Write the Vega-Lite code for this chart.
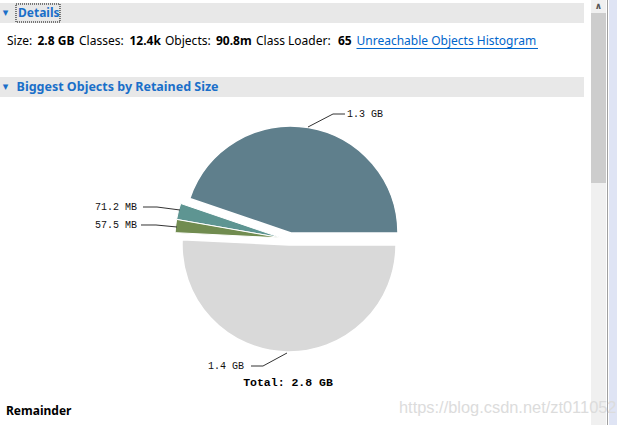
{
  "$schema": "https://vega.github.io/schema/vega-lite/v6.json",
  "width": 617,
  "height": 425,
  "padding": 0,
  "autosize": {"type": "none"},
  "background": "white",
  "config": {"view": {"stroke": null}, "axis": {"disable": true}},
  "datasets": {
    "slices": [
      {"name": "Object 1", "mb": 1300, "order": 1, "label": "1.3 GB"},
      {"name": "Object 2", "mb": 71.2, "order": 2, "label": "71.2 MB"},
      {"name": "Object 3", "mb": 57.5, "order": 3, "label": "57.5 MB"},
      {"name": "Remainder", "mb": 1475, "order": 4, "label": "1.4 GB"}
    ],
    "page": [
      {"item": "bar1"}, {"item": "bar2"}, {"item": "focus"}, {"item": "track"}, {"item": "thumb"},
      {"item": "edge"}, {"item": "side"}, {"item": "underline"},
      {"item": "tri1", "text": "▾"}, {"item": "tri2", "text": "▾"},
      {"item": "details", "text": "Details"},
      {"item": "biggest", "text": "Biggest Objects by Retained Size"},
      {"item": "s1", "text": "Size:"}, {"item": "s2", "text": "2.8 GB"},
      {"item": "s3", "text": "Classes:"}, {"item": "s4", "text": "12.4k"},
      {"item": "s5", "text": "Objects:"}, {"item": "s6", "text": "90.8m"},
      {"item": "s7", "text": "Class Loader:"}, {"item": "s8", "text": "65"},
      {"item": "link", "text": "Unreachable Objects Histogram"},
      {"item": "total", "text": "Total: 2.8 GB"},
      {"item": "remainder", "text": "Remainder"},
      {"item": "watermark", "text": "https://blog.csdn.net/zt011052"},
      {"item": "arrow", "text": "∧"}
    ]
  },
  "layer": [
    {"data": {"name": "page"}, "transform": [{"filter": "datum.item == 'bar1'"}],
     "mark": {"type": "rect", "color": "#e8e8e8"},
     "encoding": {
       "x": {"datum": -2.70093, "type": "quantitative", "scale": {"domain": [-2.70093, 3.06542], "nice": false, "zero": false}, "axis": null},
       "x2": {"datum": 2.75701},
       "y": {"datum": 2.26168, "type": "quantitative", "scale": {"domain": [-1.68224, 2.28972], "nice": false, "zero": false}, "axis": null},
       "y2": {"datum": 2.07477}}},
    {"data": {"name": "page"}, "transform": [{"filter": "datum.item == 'bar2'"}],
     "mark": {"type": "rect", "color": "#e8e8e8"},
     "encoding": {"x": {"datum": -2.70093, "type": "quantitative", "axis": null}, "x2": {"datum": 2.75701},
       "y": {"datum": 1.57009, "type": "quantitative", "axis": null}, "y2": {"datum": 1.38318}}},
    {"data": {"name": "page"}, "transform": [{"filter": "datum.item == 'track'"}],
     "mark": {"type": "rect", "color": "#f0f0f0"},
     "encoding": {"x": {"datum": 2.82243, "type": "quantitative", "axis": null}, "x2": {"datum": 2.96262},
       "y": {"datum": -1.68224, "type": "quantitative", "axis": null}, "y2": {"datum": 2.28972}}},
    {"data": {"name": "page"}, "transform": [{"filter": "datum.item == 'thumb'"}],
     "mark": {"type": "rect", "color": "#cdcdcd"},
     "encoding": {"x": {"datum": 2.82243, "type": "quantitative", "axis": null}, "x2": {"datum": 2.96262},
       "y": {"datum": 2.16822, "type": "quantitative", "axis": null}, "y2": {"datum": 0.57944}}},
    {"data": {"name": "page"}, "transform": [{"filter": "datum.item == 'side'"}],
     "mark": {"type": "rect", "color": "#dfe4f4"},
     "encoding": {"x": {"datum": 2.99065, "type": "quantitative", "axis": null}, "x2": {"datum": 3.06542},
       "y": {"datum": -1.68224, "type": "quantitative", "axis": null}, "y2": {"datum": 2.28972}}},
    {"data": {"name": "page"}, "transform": [{"filter": "datum.item == 'edge'"}],
     "mark": {"type": "rule", "color": "#a0a0a0", "strokeWidth": 1},
     "encoding": {"x": {"datum": 2.97664, "type": "quantitative", "axis": null},
       "y": {"datum": -1.68224, "type": "quantitative", "axis": null}, "y2": {"datum": 2.28972}}},
    {"data": {"name": "page"}, "transform": [{"filter": "datum.item == 'focus'"}],
     "mark": {"type": "rect", "filled": false, "stroke": "#000000", "strokeWidth": 1, "strokeDash": [1, 1]},
     "encoding": {"x": {"datum": -2.55140, "type": "quantitative", "axis": null}, "x2": {"datum": -2.14019},
       "y": {"datum": 2.25234, "type": "quantitative", "axis": null}, "y2": {"datum": 2.08411}}},
    {"data": {"name": "page"}, "transform": [{"filter": "datum.item == 'underline'"}],
     "mark": {"type": "rule", "color": "#0066cc", "strokeWidth": 1},
     "encoding": {"x": {"datum": 0.63084, "type": "quantitative", "axis": null}, "x2": {"datum": 2.32710},
       "y": {"datum": 1.83645, "type": "quantitative", "axis": null}}},

    {"data": {"name": "slices"},
     "transform": [{"stack": "mb", "groupby": [], "sort": [{"field": "order", "order": "ascending"}], "as": ["s0", "s1"]}, {"filter": "datum.name == 'Remainder'"}],
     "mark": {"type": "arc", "outerRadius": 107, "stroke": "white", "strokeWidth": 1.5},
     "encoding": {
       "x": {"datum": 0, "type": "quantitative", "axis": null},
       "y": {"datum": 0, "type": "quantitative", "axis": null},
       "theta": {"field": "s0", "type": "quantitative", "scale": {"domain": [0, 2903.7], "range": [1.5708, -4.7124]}},
       "theta2": {"field": "s1"},
       "color": {"field": "name", "type": "nominal", "scale": {"domain": ["Object 1", "Object 2", "Object 3", "Remainder"], "range": ["#5f7f8c", "#5e9592", "#718c50", "#d9d9d9"]}, "legend": null}}},
    {"data": {"name": "slices"},
     "transform": [{"stack": "mb", "groupby": [], "sort": [{"field": "order", "order": "ascending"}], "as": ["s0", "s1"]}, {"filter": "datum.name == 'Object 1'"}],
     "mark": {"type": "arc", "outerRadius": 107, "stroke": "white", "strokeWidth": 1.5},
     "encoding": {
       "x": {"datum": 0.01869, "type": "quantitative", "axis": null},
       "y": {"datum": 0.11215, "type": "quantitative", "axis": null},
       "theta": {"field": "s0", "type": "quantitative", "scale": {"domain": [0, 2903.7], "range": [1.5708, -4.7124]}},
       "theta2": {"field": "s1"},
       "color": {"field": "name", "type": "nominal", "legend": null}}},
    {"data": {"name": "slices"},
     "transform": [{"stack": "mb", "groupby": [], "sort": [{"field": "order", "order": "ascending"}], "as": ["s0", "s1"]}, {"filter": "datum.name == 'Object 2' || datum.name == 'Object 3'"}],
     "mark": {"type": "arc", "outerRadius": 107, "stroke": "white", "strokeWidth": 1},
     "encoding": {
       "x": {"datum": -0.06542, "type": "quantitative", "axis": null},
       "y": {"datum": 0.06542, "type": "quantitative", "axis": null},
       "theta": {"field": "s0", "type": "quantitative", "scale": {"domain": [0, 2903.7], "range": [1.5708, -4.7124]}},
       "theta2": {"field": "s1"},
       "color": {"field": "name", "type": "nominal", "legend": null}}},

    {"data": {"name": "slices"}, "transform": [{"filter": "datum.order == 1"}],
     "mark": {"type": "rule", "color": "#333333", "strokeWidth": 1},
     "encoding": {"x": {"datum": 0.17757, "type": "quantitative", "axis": null}, "y": {"datum": 1.10280, "type": "quantitative", "axis": null},
       "x2": {"datum": 0.41121}, "y2": {"datum": 1.22430}}},
    {"data": {"name": "slices"}, "transform": [{"filter": "datum.order == 1"}],
     "mark": {"type": "rule", "color": "#333333", "strokeWidth": 1},
     "encoding": {"x": {"datum": 0.41121, "type": "quantitative", "axis": null}, "y": {"datum": 1.22430, "type": "quantitative", "axis": null},
       "x2": {"datum": 0.52336}, "y2": {"datum": 1.22430}}},
    {"data": {"name": "slices"}, "transform": [{"filter": "datum.order == 2"}],
     "mark": {"type": "rule", "color": "#333333", "strokeWidth": 1},
     "encoding": {"x": {"datum": -1.36449, "type": "quantitative", "axis": null}, "y": {"datum": 0.35514, "type": "quantitative", "axis": null},
       "x2": {"datum": -1.23364}, "y2": {"datum": 0.35514}}},
    {"data": {"name": "slices"}, "transform": [{"filter": "datum.order == 2"}],
     "mark": {"type": "rule", "color": "#333333", "strokeWidth": 1},
     "encoding": {"x": {"datum": -1.23364, "type": "quantitative", "axis": null}, "y": {"datum": 0.35514, "type": "quantitative", "axis": null},
       "x2": {"datum": -1.01869}, "y2": {"datum": 0.32710}}},
    {"data": {"name": "slices"}, "transform": [{"filter": "datum.order == 3"}],
     "mark": {"type": "rule", "color": "#333333", "strokeWidth": 1},
     "encoding": {"x": {"datum": -1.38318, "type": "quantitative", "axis": null}, "y": {"datum": 0.18692, "type": "quantitative", "axis": null},
       "x2": {"datum": -1.24299}, "y2": {"datum": 0.18692}}},
    {"data": {"name": "slices"}, "transform": [{"filter": "datum.order == 3"}],
     "mark": {"type": "rule", "color": "#333333", "strokeWidth": 1},
     "encoding": {"x": {"datum": -1.24299, "type": "quantitative", "axis": null}, "y": {"datum": 0.18692, "type": "quantitative", "axis": null},
       "x2": {"datum": -1.04673}, "y2": {"datum": 0.16822}}},
    {"data": {"name": "slices"}, "transform": [{"filter": "datum.order == 4"}],
     "mark": {"type": "rule", "color": "#333333", "strokeWidth": 1},
     "encoding": {"x": {"datum": -0.35514, "type": "quantitative", "axis": null}, "y": {"datum": -1.13084, "type": "quantitative", "axis": null},
       "x2": {"datum": -0.24299}, "y2": {"datum": -1.13084}}},
    {"data": {"name": "slices"}, "transform": [{"filter": "datum.order == 4"}],
     "mark": {"type": "rule", "color": "#333333", "strokeWidth": 1},
     "encoding": {"x": {"datum": -0.24299, "type": "quantitative", "axis": null}, "y": {"datum": -1.13084, "type": "quantitative", "axis": null},
       "x2": {"datum": -0.01869}, "y2": {"datum": -1.00935}}},

    {"data": {"name": "slices"}, "transform": [{"filter": "datum.order == 1"}],
     "mark": {"type": "text", "font": "Liberation Mono", "fontSize": 10, "color": "#111111", "align": "left", "baseline": "middle"},
     "encoding": {"x": {"datum": 0.54206, "type": "quantitative", "axis": null}, "y": {"datum": 1.22430, "type": "quantitative", "axis": null}, "text": {"field": "label"}}},
    {"data": {"name": "slices"}, "transform": [{"filter": "datum.order == 2"}],
     "mark": {"type": "text", "font": "Liberation Mono", "fontSize": 10, "color": "#111111", "align": "right", "baseline": "middle"},
     "encoding": {"x": {"datum": -1.42056, "type": "quantitative", "axis": null}, "y": {"datum": 0.35514, "type": "quantitative", "axis": null}, "text": {"field": "label"}}},
    {"data": {"name": "slices"}, "transform": [{"filter": "datum.order == 3"}],
     "mark": {"type": "text", "font": "Liberation Mono", "fontSize": 10, "color": "#111111", "align": "right", "baseline": "middle"},
     "encoding": {"x": {"datum": -1.42056, "type": "quantitative", "axis": null}, "y": {"datum": 0.18692, "type": "quantitative", "axis": null}, "text": {"field": "label"}}},
    {"data": {"name": "slices"}, "transform": [{"filter": "datum.order == 4"}],
     "mark": {"type": "text", "font": "Liberation Mono", "fontSize": 10, "color": "#111111", "align": "right", "baseline": "middle"},
     "encoding": {"x": {"datum": -0.42056, "type": "quantitative", "axis": null}, "y": {"datum": -1.13084, "type": "quantitative", "axis": null}, "text": {"field": "label"}}},

    {"data": {"name": "page"}, "transform": [{"filter": "datum.item == 'total'"}],
     "mark": {"type": "text", "font": "Liberation Mono", "fontSize": 11.5, "fontWeight": "bold", "color": "#000000", "align": "center", "baseline": "middle"},
     "encoding": {"x": {"datum": -0.00935, "type": "quantitative", "axis": null}, "y": {"datum": -1.28972, "type": "quantitative", "axis": null}, "text": {"field": "text"}}},

    {"data": {"name": "page"}, "transform": [{"filter": "datum.item == 'tri1'"}],
     "mark": {"type": "text", "font": "DejaVu Sans", "fontSize": 11, "color": "#1a6fc9", "align": "center", "baseline": "middle"},
     "encoding": {"x": {"datum": -2.64953, "type": "quantitative", "axis": null}, "y": {"datum": 2.16822, "type": "quantitative", "axis": null}, "text": {"field": "text"}}},
    {"data": {"name": "page"}, "transform": [{"filter": "datum.item == 'tri2'"}],
     "mark": {"type": "text", "font": "DejaVu Sans", "fontSize": 11, "color": "#1a6fc9", "align": "center", "baseline": "middle"},
     "encoding": {"x": {"datum": -2.64953, "type": "quantitative", "axis": null}, "y": {"datum": 1.47664, "type": "quantitative", "axis": null}, "text": {"field": "text"}}},
    {"data": {"name": "page"}, "transform": [{"filter": "datum.item == 'details'"}],
     "mark": {"type": "text", "font": "Noto Sans", "fontSize": 12, "fontWeight": "bold", "color": "#1a6fc9", "align": "left", "baseline": "middle"},
     "encoding": {"x": {"datum": -2.53271, "type": "quantitative", "axis": null}, "y": {"datum": 2.16822, "type": "quantitative", "axis": null}, "text": {"field": "text"}}},
    {"data": {"name": "page"}, "transform": [{"filter": "datum.item == 'biggest'"}],
     "mark": {"type": "text", "font": "Noto Sans", "fontSize": 12.5, "fontWeight": "bold", "color": "#1a6fc9", "align": "left", "baseline": "middle"},
     "encoding": {"x": {"datum": -2.54579, "type": "quantitative", "axis": null}, "y": {"datum": 1.47664, "type": "quantitative", "axis": null}, "text": {"field": "text"}}},

    {"data": {"name": "page"}, "transform": [{"filter": "datum.item == 's1'"}],
     "mark": {"type": "text", "font": "Noto Sans", "fontSize": 12, "color": "#000000", "align": "left", "baseline": "middle"},
     "encoding": {"x": {"datum": -2.63551, "type": "quantitative", "axis": null}, "y": {"datum": 1.90187, "type": "quantitative", "axis": null}, "text": {"field": "text"}}},
    {"data": {"name": "page"}, "transform": [{"filter": "datum.item == 's2'"}],
     "mark": {"type": "text", "font": "Noto Sans", "fontSize": 12, "fontWeight": "bold", "color": "#000000", "align": "left", "baseline": "middle"},
     "encoding": {"x": {"datum": -2.35047, "type": "quantitative", "axis": null}, "y": {"datum": 1.90187, "type": "quantitative", "axis": null}, "text": {"field": "text"}}},
    {"data": {"name": "page"}, "transform": [{"filter": "datum.item == 's3'"}],
     "mark": {"type": "text", "font": "Noto Sans", "fontSize": 12, "color": "#000000", "align": "left", "baseline": "middle"},
     "encoding": {"x": {"datum": -1.96262, "type": "quantitative", "axis": null}, "y": {"datum": 1.90187, "type": "quantitative", "axis": null}, "text": {"field": "text"}}},
    {"data": {"name": "page"}, "transform": [{"filter": "datum.item == 's4'"}],
     "mark": {"type": "text", "font": "Noto Sans", "fontSize": 12, "fontWeight": "bold", "color": "#000000", "align": "left", "baseline": "middle"},
     "encoding": {"x": {"datum": -1.49065, "type": "quantitative", "axis": null}, "y": {"datum": 1.90187, "type": "quantitative", "axis": null}, "text": {"field": "text"}}},
    {"data": {"name": "page"}, "transform": [{"filter": "datum.item == 's5'"}],
     "mark": {"type": "text", "font": "Noto Sans", "fontSize": 12, "color": "#000000", "align": "left", "baseline": "middle"},
     "encoding": {"x": {"datum": -1.15888, "type": "quantitative", "axis": null}, "y": {"datum": 1.90187, "type": "quantitative", "axis": null}, "text": {"field": "text"}}},
    {"data": {"name": "page"}, "transform": [{"filter": "datum.item == 's6'"}],
     "mark": {"type": "text", "font": "Noto Sans", "fontSize": 12, "fontWeight": "bold", "color": "#000000", "align": "left", "baseline": "middle"},
     "encoding": {"x": {"datum": -0.68224, "type": "quantitative", "axis": null}, "y": {"datum": 1.90187, "type": "quantitative", "axis": null}, "text": {"field": "text"}}},
    {"data": {"name": "page"}, "transform": [{"filter": "datum.item == 's7'"}],
     "mark": {"type": "text", "font": "Noto Sans", "fontSize": 12, "color": "#000000", "align": "left", "baseline": "middle"},
     "encoding": {"x": {"datum": -0.30841, "type": "quantitative", "axis": null}, "y": {"datum": 1.90187, "type": "quantitative", "axis": null}, "text": {"field": "text"}}},
    {"data": {"name": "page"}, "transform": [{"filter": "datum.item == 's8'"}],
     "mark": {"type": "text", "font": "Noto Sans", "fontSize": 12, "fontWeight": "bold", "color": "#000000", "align": "left", "baseline": "middle"},
     "encoding": {"x": {"datum": 0.45794, "type": "quantitative", "axis": null}, "y": {"datum": 1.90187, "type": "quantitative", "axis": null}, "text": {"field": "text"}}},
    {"data": {"name": "page"}, "transform": [{"filter": "datum.item == 'link'"}],
     "mark": {"type": "text", "font": "Noto Sans", "fontSize": 12, "color": "#0066cc", "align": "left", "baseline": "middle"},
     "encoding": {"x": {"datum": 0.63084, "type": "quantitative", "axis": null}, "y": {"datum": 1.90187, "type": "quantitative", "axis": null}, "text": {"field": "text"}}},

    {"data": {"name": "page"}, "transform": [{"filter": "datum.item == 'remainder'"}],
     "mark": {"type": "text", "font": "Noto Sans", "fontSize": 12, "fontWeight": "bold", "color": "#000000", "align": "left", "baseline": "middle"},
     "encoding": {"x": {"datum": -2.64486, "type": "quantitative", "axis": null}, "y": {"datum": -1.54673, "type": "quantitative", "axis": null}, "text": {"field": "text"}}},
    {"data": {"name": "page"}, "transform": [{"filter": "datum.item == 'arrow'"}],
     "mark": {"type": "text", "font": "DejaVu Sans", "fontSize": 9, "fontWeight": "bold", "color": "#555555", "align": "center", "baseline": "middle"},
     "encoding": {"x": {"datum": 2.89252, "type": "quantitative", "axis": null}, "y": {"datum": 2.23364, "type": "quantitative", "axis": null}, "text": {"field": "text"}}},
    {"data": {"name": "page"}, "transform": [{"filter": "datum.item == 'watermark'"}],
     "mark": {"type": "text", "font": "Liberation Sans", "fontSize": 16.4, "color": "#dcdcdc", "align": "left", "baseline": "middle"},
     "encoding": {"x": {"datum": 1.02804, "type": "quantitative", "axis": null}, "y": {"datum": -1.52336, "type": "quantitative", "axis": null}, "text": {"field": "text"}}}
  ]
}
